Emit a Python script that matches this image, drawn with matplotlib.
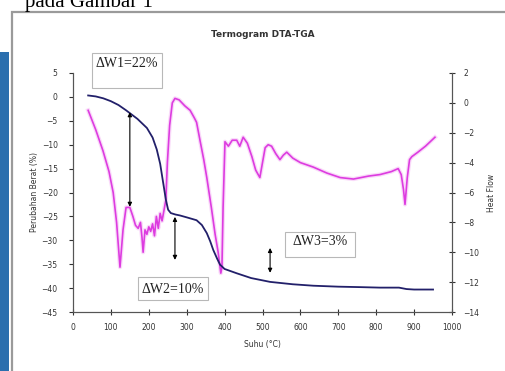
import matplotlib
matplotlib.use("Agg")
import matplotlib.pyplot as plt
from matplotlib.patches import Rectangle

# TGA curve (left axis, % weight change)
tga_x = [40, 60, 80, 100, 120, 140, 150, 170, 195, 210, 221, 230, 238, 245, 251, 258, 270,
         282, 300, 326, 340, 353, 362, 370, 380, 388, 400, 432, 470, 520, 580, 634, 700,
         760, 810, 860, 880, 900, 950]
tga_y = [0.3, 0.1, -0.3, -0.9, -1.7, -2.8, -3.4, -4.6, -6.5, -8.5, -11.0, -14.0, -18.0,
         -21.5, -23.6, -24.3, -24.6, -24.8, -25.2, -25.8, -26.8, -28.5, -30.2, -32.0, -33.8,
         -35.1, -36.0, -36.9, -37.9, -38.7, -39.2, -39.5, -39.7, -39.8, -39.9, -39.9, -40.2,
         -40.3, -40.3]

# DTA curve (right axis, heat flow)
dta_x = [40, 60, 79, 95, 106, 115, 124, 132, 140, 150, 158, 165, 172, 178, 182, 185, 190,
         195, 200, 205, 210, 215, 220, 225, 230, 235, 240, 245, 249, 255, 262, 269, 280, 295,
         309, 320, 326, 335, 345, 353, 365, 375, 383, 390, 393, 396, 401, 410, 420, 432, 440,
         449, 460, 472, 482, 493, 500, 507, 515, 524, 535, 546, 555, 564, 580, 600, 634, 670,
         705, 740, 780, 810, 840, 858, 866, 872, 876, 882, 888, 894, 910, 930, 955]
dta_y = [-0.5, -1.8, -3.2, -4.6, -6.0, -8.0, -11.0, -8.5, -7.0, -7.0, -7.6, -8.2, -8.4, -8.0,
         -9.0, -10.0, -8.5, -8.8, -8.3, -8.6, -8.1, -8.9, -7.6, -8.4, -7.4, -7.9, -7.2, -6.5,
         -4.0, -1.5, 0.0, 0.3, 0.2, -0.2, -0.5, -1.0, -1.3, -2.5, -3.8, -5.0, -7.0, -8.8,
         -10.0, -11.4, -11.0, -7.0, -2.6, -2.9, -2.5, -2.5, -2.9, -2.3, -2.7, -3.6, -4.5,
         -5.0, -4.0, -3.0, -2.8, -2.9, -3.4, -3.8, -3.5, -3.3, -3.7, -4.0, -4.3, -4.7, -5.0,
         -5.1, -4.9, -4.8, -4.6, -4.4, -4.8, -5.8, -6.8, -5.0, -3.8, -3.6, -3.3, -2.9, -2.3]

# weight-loss arrows: x, y_top, y_bottom (left axis units)
arrows = [(150, -3.2, -23.0), (269, -25.1, -34.1), (520, -31.6, -36.8)]
labels = ["\u0394W1=22%", "\u0394W2=10%", "\u0394W3=3%"]

fig = plt.figure(figsize=(5.05, 3.71), dpi=100)

# page decorations around the pasted chart
fig.text(25 / 505, 1 - 7 / 371, "pada Gambar 1", family="Liberation Serif", fontsize=15,
         va="baseline", ha="left")
fig.patches.append(Rectangle((12 / 505, -0.1), 1.1, 1 - 12 / 371 + 0.1,
                             transform=fig.transFigure, fill=False, ec="#9a9a9a", lw=1.6))
fig.patches.append(Rectangle((0, 0), 9 / 505, 1 - 52 / 371, transform=fig.transFigure,
                             fc="#2b6fae", ec="none"))

ax = fig.add_axes([73 / 505, 1 - 312 / 371, 379 / 505, 239 / 371])
ax2 = ax.twinx()

ax.plot(tga_x, tga_y, color="#22206a", lw=1.3, zorder=3)
ax2.plot(dta_x, dta_y, color="#f6c0f6", lw=3.0, alpha=0.6)
ax2.plot(dta_x, dta_y, color="#dd3ce0", lw=1.2)
ax.set_zorder(ax2.get_zorder() + 1)
ax.patch.set_visible(False)

for x, y1, y2 in arrows:
    ax.annotate("", xy=(x, y1), xytext=(x, y2),
                arrowprops=dict(arrowstyle="<|-|>", color="black", lw=0.8,
                                mutation_scale=6, shrinkA=0, shrinkB=0))

ax.set_xlim(0, 1000)
ax.set_ylim(-45, 5)
ax2.set_ylim(-14, 2)
ax.set_xticks(range(0, 1001, 100))
ax.set_yticks(range(-45, 6, 5))
ax2.set_yticks(range(-14, 3, 2))

for a in (ax, ax2):
    a.spines["top"].set_visible(False)
    for s in a.spines.values():
        s.set_color("#555555")
        s.set_linewidth(0.8)
ax.tick_params(axis="y", direction="out", length=3, labelsize=5.5, colors="#333333", pad=8)
ax.tick_params(axis="x", direction="inout", length=4, labelsize=5.5, colors="#333333", pad=6)
ax2.tick_params(axis="y", direction="inout", length=4, labelsize=5.5, colors="#333333", pad=6)

ax.set_xlabel("Suhu (\u00b0C)", fontsize=5.5, color="#333333", labelpad=6)
ax.set_ylabel("Perubahan Berat (%)", fontsize=5.5, color="#333333", labelpad=2)
ax2.set_ylabel("Heat Flow", fontsize=5.5, color="#333333", labelpad=6)
ax.set_title("Termogram DTA-TGA", fontsize=6.5, fontweight="bold", color="#333333", pad=26)

# annotation boxes (axes fraction)
boxes = [(0.050, 0.937, 0.185, 0.147, 0.142, 1.038),
         (0.171, 0.050, 0.185, 0.096, 0.264, 0.096),
         (0.559, 0.230, 0.185, 0.105, 0.652, 0.297)]
for (bx, by, bw, bh, tx, ty), lab in zip(boxes, labels):
    ax.add_patch(Rectangle((bx, by), bw, bh, transform=ax.transAxes, fc="white",
                           ec="#b8b8b8", lw=0.8, clip_on=False, zorder=4))
    ax.text(tx, ty, lab, transform=ax.transAxes, family="Liberation Serif", fontsize=10,
            ha="center", va="center", zorder=5, color="#222222")

fig.savefig("out.png", dpi=100)
